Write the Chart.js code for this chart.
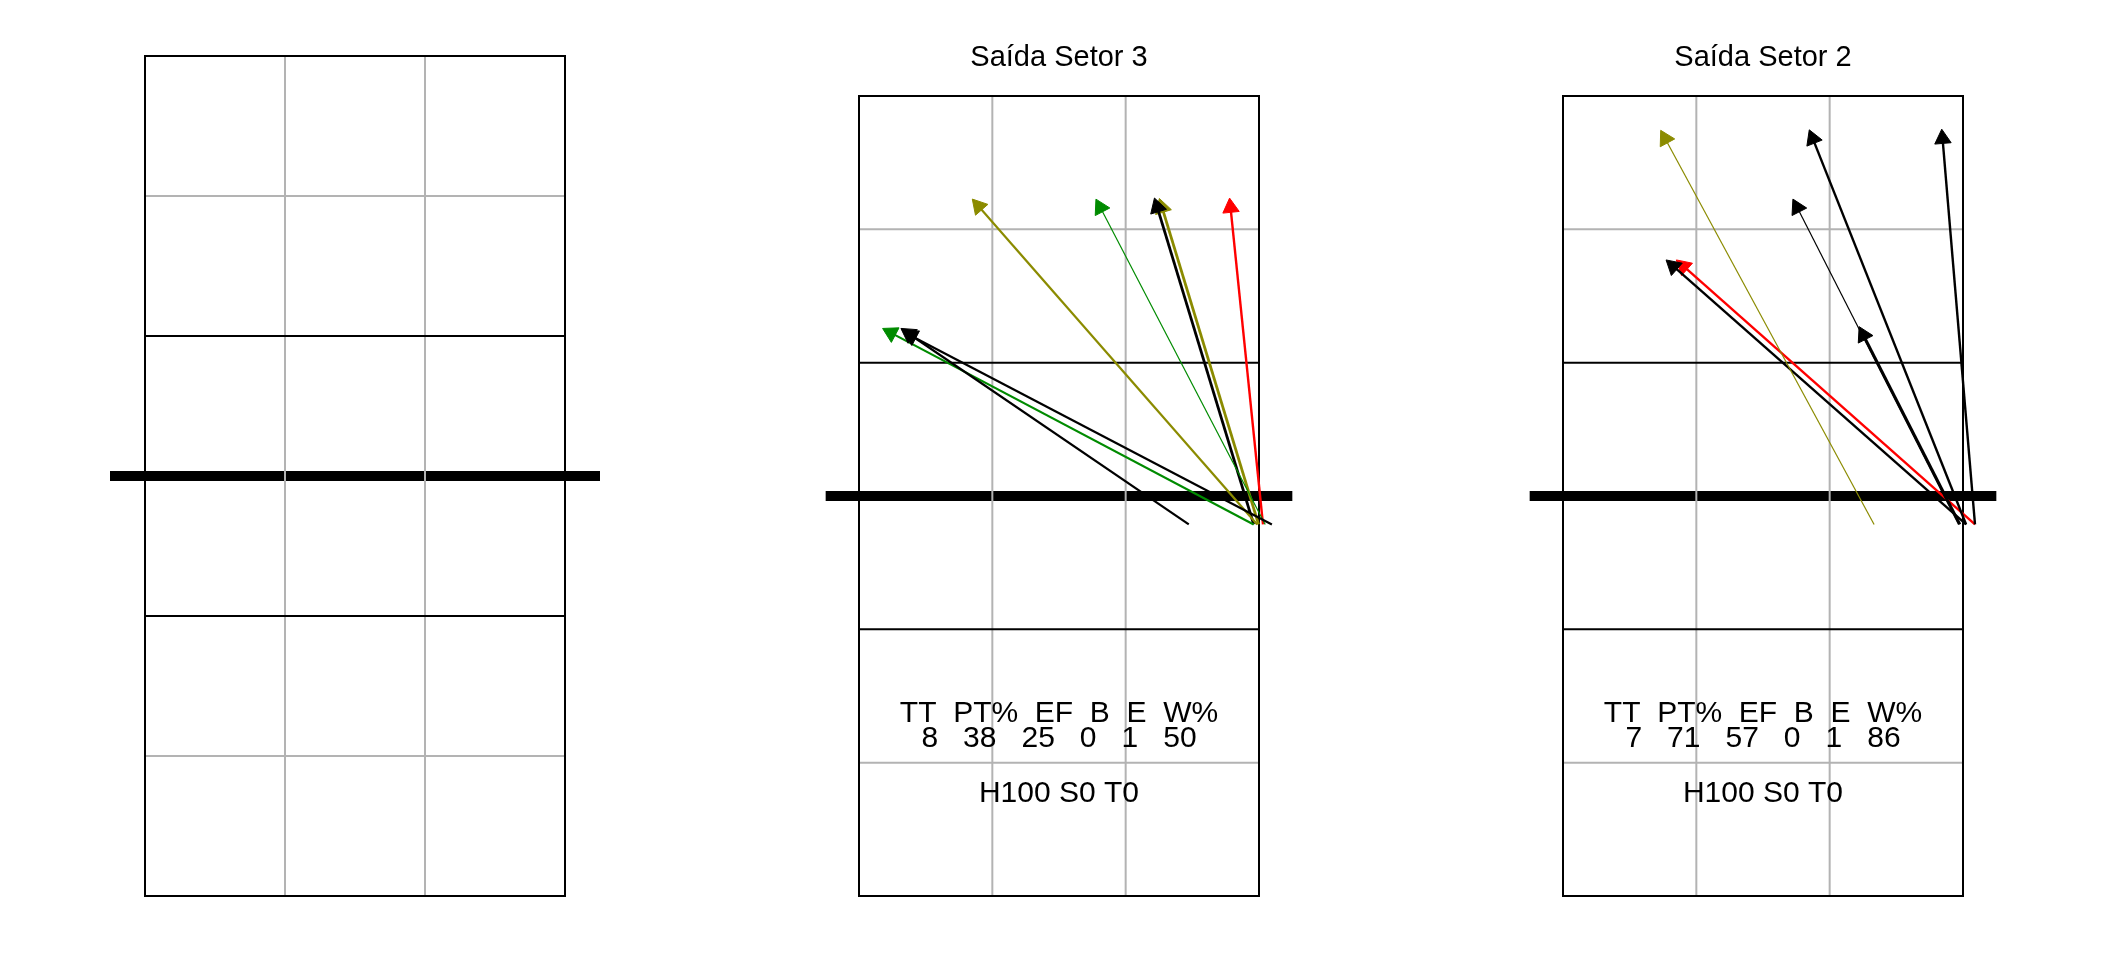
<!DOCTYPE html>
<html>
<head>
<meta charset="utf-8">
<script src="https://cdn.jsdelivr.net/npm/chart.js@4.4.1/dist/chart.umd.min.js"></script>
<style>
body { margin:0; background:#fff; }
#wrap { position:relative; width:2112px; height:960px; overflow:hidden; background:#fff; }
canvas { position:absolute; }
</style>
</head>
<body>
<div id="wrap">
  <canvas id="quadra1"></canvas>
  <canvas id="quadra2"></canvas>
  <canvas id="quadra3"></canvas>
</div>
<script>
// linhas da quadra em metros (9 x 18, rede em 9)
const linhasX = [0, 3, 6, 9];
const linhasY = [0, 3, 6, 12, 15, 18];
const redeY = 9;
const redeX = [-0.75, 9.75];

// Saida Setor 3 - inicio e fim de cada ataque
const s3X0 = [7.42, 9.29, 8.88, 8.96, 9.14, 8.88, 8.99, 9.09];
const s3Y0 = [8.36, 8.36, 8.36, 8.36, 8.36, 8.36, 8.36, 8.36];
const s3X1 = [1.12, 1.18, 0.72, 2.69, 5.43, 6.71, 6.82, 8.36];
const s3Y1 = [12.65, 12.60, 12.67, 15.52, 15.49, 15.50, 15.49, 15.49];
const s3Tipo = ['preto', 'preto', 'verde', 'oliva', 'verde', 'preto', 'oliva', 'vermelho'];

// Saida Setor 2
const s2X0 = [7.00, 9.07, 9.27, 8.90, 8.93, 9.07, 9.27];
const s2Y0 = [8.36, 8.36, 8.36, 8.36, 8.36, 8.36, 8.36];
const s2X1 = [2.30, 5.62, 8.54, 5.27, 6.76, 2.48, 2.71];
const s2Y1 = [17.04, 17.04, 17.04, 15.49, 12.62, 14.17, 14.17];
const s2Tipo = ['oliva', 'preto', 'preto', 'preto', 'preto', 'preto', 'vermelho'];

// estatisticas
const statNomes = ['TT', 'PT%', 'EF', 'B', 'E', 'W%'];
const s3Stats = [8, 38, 25, 0, 1, 50];
const s2Stats = [7, 71, 57, 0, 1, 86];
const extraNomes = ['H', 'S', 'T'];
const s3Extra = [100, 0, 0];
const s2Extra = [100, 0, 0];

// estilos
const cores = { preto: '#000000', verde: '#008B00', oliva: '#8B8B00', vermelho: '#FF0000' };
const s3Larg = [2.2, 2.2, 2.2, 2.2, 1.2, 2.8, 2.8, 2.4];
const s2Larg = [1.2, 2.4, 2.4, 1.2, 2.8, 2.4, 2.4];
const CINZA = '#B3B3B3';
const FONTE = '"Liberation Sans", Arial, Helvetica, sans-serif';

Chart.defaults.font.family = FONTE;

var textoPlugin = {
    id: 'textoQuadra',
    afterDatasetsDraw: function (chart, args, opts) {
        if (!opts || !opts.linhas) return;
        var ctx = chart.ctx, sx = chart.scales.x, sy = chart.scales.y;
        ctx.save();
        ctx.fillStyle = '#000';
        ctx.textAlign = 'center';
        ctx.textBaseline = 'alphabetic';
        ctx.font = '30px ' + FONTE;
        opts.linhas.forEach(function (l) {
            ctx.fillText(l.texto, sx.getPixelForValue(4.5), sy.getPixelForValue(l.y));
        });
        ctx.restore();
    }
};

function segmento(x0, y0, x1, y1, cor, larg, ordem, ponta) {
    return {
        data: [{ x: x0, y: y0 }, { x: x1, y: y1 }],
        showLine: true, borderColor: cor, borderWidth: larg,
        borderCapStyle: ponta || 'square', pointRadius: 0, order: ordem
    };
}

function montaQuadra(id, g, titulo, ataques, stats, extra) {
    var ppm = g.largura / 9;
    var tituloAlt = titulo ? 34 : 0;
    var canvas = document.getElementById(id);
    canvas.width = g.cw;
    canvas.height = g.ch;
    canvas.style.left = g.cx + 'px';
    canvas.style.top = g.cy + 'px';

    var areaTopo = g.cy + tituloAlt;
    var xMin = (g.cx - g.qx) / ppm;
    var xMax = (g.cx + g.cw - g.qx) / ppm;
    var yMax = 18 + (g.qy - areaTopo) / ppm;
    var yMin = 18 - (g.cy + g.ch - g.qy) / ppm;

    var ds = [];
    // rede
    ds.push(segmento(redeX[0], redeY, redeX[1], redeY, '#000', 10, 6, 'butt'));
    // linhas da quadra
    linhasX.forEach(function (x) {
        var preta = (x === 0 || x === 9);
        ds.push(segmento(x, 0, x, 18, preta ? '#000' : CINZA, 2, preta ? 4 : 5));
    });
    linhasY.forEach(function (y) {
        var preta = (y % 6 === 0);
        ds.push(segmento(0, y, 9, y, preta ? '#000' : CINZA, 2, preta ? 4 : 5));
    });

    if (ataques) {
        for (var i = 0; i < ataques.x0.length; i++) {
            var cor = cores[ataques.tipo[i]];
            var ang = Math.atan2(ataques.x1[i] - ataques.x0[i], ataques.y1[i] - ataques.y0[i]) * 180 / Math.PI;
            ds.push({
                data: [{ x: ataques.x0[i], y: ataques.y0[i] }, { x: ataques.x1[i], y: ataques.y1[i] }],
                showLine: true, borderColor: cor, borderWidth: ataques.larg[i],
                pointStyle: 'triangle', pointRadius: [0, 9.5], pointRotation: [0, ang],
                pointBackgroundColor: cor, pointBorderColor: cor, pointBorderWidth: 1,
                order: 1
            });
        }
    }

    var linhasTexto = null;
    if (stats) {
        linhasTexto = [
            { texto: statNomes.join('  '), y: 3.92 },
            { texto: stats.join('   '), y: 3.35 },
            { texto: extraNomes.map(function (n, k) { return n + extra[k]; }).join(' '), y: 2.12 }
        ];
    }

    return new Chart(canvas.getContext('2d'), {
        type: 'scatter',
        data: { datasets: ds },
        options: {
            responsive: false,
            animation: false,
            devicePixelRatio: 1,
            events: [],
            layout: { padding: 0, autoPadding: false },
            scales: {
                x: { type: 'linear', min: xMin, max: xMax, display: false },
                y: { type: 'linear', min: yMin, max: yMax, display: false }
            },
            plugins: {
                legend: { display: false },
                tooltip: { enabled: false },
                title: {
                    display: !!titulo, text: titulo || '', color: '#000', padding: 0,
                    font: { size: 29, weight: 'normal', lineHeight: '34px' }
                },
                textoQuadra: { linhas: linhasTexto }
            }
        },
        plugins: [textoPlugin]
    });
}

montaQuadra('quadra1', { cx: 85, cy: 36, cw: 540, ch: 880, qx: 145, qy: 56, largura: 420 }, null, null, null, null);

montaQuadra('quadra2', { cx: 799, cy: 41, cw: 520, ch: 875, qx: 859, qy: 96, largura: 400 }, 'Saída Setor 3',
    { x0: s3X0, y0: s3Y0, x1: s3X1, y1: s3Y1, tipo: s3Tipo, larg: s3Larg }, s3Stats, s3Extra);

montaQuadra('quadra3', { cx: 1503, cy: 41, cw: 520, ch: 875, qx: 1563, qy: 96, largura: 400 }, 'Saída Setor 2',
    { x0: s2X0, y0: s2Y0, x1: s2X1, y1: s2Y1, tipo: s2Tipo, larg: s2Larg }, s2Stats, s2Extra);
</script>
</body>
</html>
